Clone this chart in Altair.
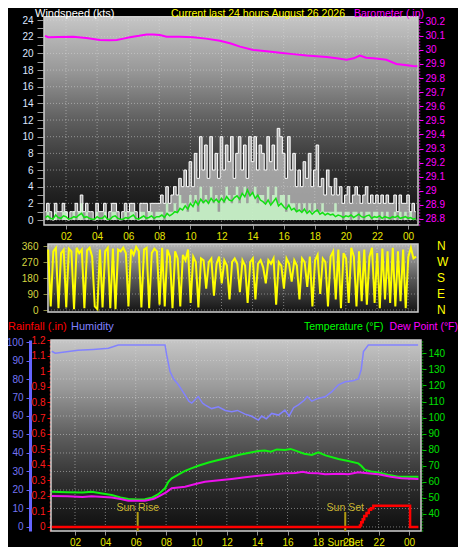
import altair as alt
import pandas as pd

# ---------------- data ----------------
TITLE = "Current last 24 hours August 26 2026"

# wind speed, 10-minute samples starting 00:40 (knots)
WIND_START = 0.667
WIND_STEP = 1 / 6
gust = [1, 2, 1, 0, 2, 1, 1, 2, 1, 0, 1, 1, 2, 1, 3, 1, 2, 1, 1, 0,
        2, 1, 1, 2, 0, 1, 2, 2, 1, 0, 1, 2, 1, 2, 2, 1, 0, 2, 2, 2,
        1, 2, 2, 2,
        2, 3, 2, 4, 2, 3,
        4, 3, 5, 4, 6, 4,
        7, 4, 8, 5, 10, 6,
        9, 5, 10, 6, 8, 5,
        10, 6, 9, 7, 10, 5,
        8, 10, 6, 9, 5, 10,
        7, 10, 6, 9, 8, 6,
        10, 7, 9, 6, 11, 10,
        8, 5, 10, 6, 8, 4,
        6, 4, 7, 5, 8, 4,
        6, 9, 4, 5, 3, 6,
        4, 3, 5, 3, 4, 2,
        3, 4, 2, 3, 4, 3,
        2, 3, 4, 2, 3, 2,
        3, 2, 3, 2, 3, 2,
        2, 3, 1, 3, 2, 2,
        3, 1, 2, 1]
speed = [0, 1, 0, 0, 1, 0, 0, 1, 1, 0, 0, 1, 0, 1, 2, 0, 1, 0, 0, 0,
         1, 0, 0, 1, 0, 0, 1, 1, 0, 0, 0, 1, 0, 1, 1, 0, 0, 1, 1, 0,
         1, 1, 0, 1,
         1, 1, 0, 2, 1, 1,
         2, 1, 3, 2, 2, 1,
         3, 2, 3, 1, 4, 2,
         3, 2, 4, 2, 3, 1,
         3, 2, 4, 3, 2, 3,
         4, 2, 3, 4, 2, 3,
         3, 4, 2, 3, 3, 2,
         4, 2, 3, 4, 2, 3,
         3, 1, 3, 2, 2, 1,
         2, 1, 2, 1, 2, 1,
         2, 1, 1, 2, 1, 1,
         1, 1, 2, 1, 1, 0,
         1, 1, 0, 1, 1, 0,
         1, 0, 1, 1, 0, 1,
         1, 0, 1, 0, 1, 0,
         0, 1, 0, 1, 0, 1,
         0, 1, 0, 0]
avg_speed = [0.3, 0.5, 0.2, 0.1, 0.6, 0.3, 0.2, 0.5, 0.4, 0.1,
             0.2, 0.4, 0.3, 0.6, 0.8, 0.3, 0.4, 0.2, 0.1, 0.1,
             0.4, 0.2, 0.2, 0.5, 0.1, 0.1, 0.4, 0.5, 0.2, 0.1,
             0.1, 0.3, 0.2, 0.4, 0.6, 0.2, 0.1, 0.3, 0.5, 0.2,
             0.3, 0.5, 0.2, 0.4,
             0.4, 0.6, 0.3, 0.8, 0.5, 0.7,
             1.0, 0.9, 1.4, 1.2, 1.7, 1.3,
             2.0, 1.6, 2.3, 1.8, 2.5, 2.1,
             2.4, 2.0, 2.6, 2.2, 2.5, 2.1,
             2.6, 2.2, 2.8, 2.4, 2.3, 2.7,
             2.9, 2.5, 3.2, 2.8, 3.6, 2.9,
             3.3, 2.6, 3.0, 2.4, 2.2, 1.9,
             2.4, 1.8, 2.2, 2.6, 1.7, 2.0,
             1.6, 1.3, 1.8, 1.2, 1.4, 1.0,
             1.2, 0.9, 1.3, 0.8, 1.1, 0.7,
             1.0, 1.2, 0.7, 0.9, 0.6, 0.8,
             0.6, 0.7, 0.4, 0.6, 0.5, 0.3,
             0.5, 0.4, 0.6, 0.3, 0.5, 0.7,
             0.4, 0.3, 0.5, 0.6, 0.2, 0.4,
             0.3, 0.5, 0.2, 0.4, 0.3, 0.2,
             0.4, 0.3, 0.5, 0.2, 0.3, 0.4,
             0.2, 0.3, 0.1, 0.2]

# wind direction, 10-minute samples starting 00:51 (degrees)
DIR_START = 0.85
DIR_STEP = 1 / 6
direction = [340, 20, 330, 350, 10, 320, 340, 15, 345, 330, 5, 350,
             320, 340, 10, 335, 350, 300, 20, 5, 340, 15, 330, 350,
             10, 345, 5, 340, 330, 350, 320, 20, 340, 310, 355, 330,
             15, 340, 350, 10, 320, 345, 330, 30, 350, 20, 340, 300,
             10, 330, 290, 20, 310, 280, 340, 40, 300, 270, 15, 290,
             280, 120, 270, 290, 80, 260, 300, 150, 280, 250, 60, 270,
             290, 260, 100, 280, 250, 40, 270, 290, 60, 260, 280, 240,
             150, 280, 260, 290, 30, 270, 250, 120, 290, 260, 160, 280,
             250, 60, 290, 270, 130, 300, 20, 280, 310, 90, 290, 270,
             20, 300, 330, 60, 340, 10, 320, 290, 40, 350, 300, 20,
             330, 50, 340, 30, 300, 350, 40, 320, 10, 345, 60, 330,
             40, 350, 20, 330, 50, 340, 10, 300, 350, 290, 300]

baro_hours = [0.65, 0.85, 1.5, 2.47, 3.3, 4.19, 4.8, 5.26, 5.7, 6.11, 6.7, 7.19, 7.6,
              8.04, 8.47, 9.3, 10.18, 11.0, 11.9, 12.6, 13.19, 14.04, 14.9, 15.76,
              16.6, 17.48, 18.76, 19.4, 20.05, 20.5, 20.9, 21.3, 21.76, 22.2, 22.6,
              23.25, 23.8, 24.3, 24.6]
baro_vals = [30.10, 30.09, 30.092, 30.094, 30.085, 30.07, 30.068, 30.07, 30.08, 30.09,
             30.10, 30.11, 30.11, 30.106, 30.094, 30.094, 30.09, 30.08, 30.065, 30.045,
             30.023, 30.0, 29.99, 29.98, 29.97, 29.96, 29.95, 29.94, 29.93, 29.94,
             29.96, 29.945, 29.94, 29.935, 29.93, 29.90, 29.893, 29.886, 29.884]

hum_hours = [0.47, 0.7, 1.2, 2.2, 3.2, 4.2, 4.85, 7.93, 8.04, 8.26, 8.5, 8.8, 9.2, 9.5,
             9.69, 10.12, 10.4, 10.56, 11.0, 11.44, 11.9, 12.32, 12.7, 13.2, 13.6, 14.08,
             14.3, 14.6, 14.96, 15.4, 15.83, 16.1, 16.4, 16.71, 17.1, 17.3, 17.6, 18.0,
             18.47, 18.9, 19.35, 19.8, 20.3, 20.66, 20.85, 21.0, 21.32, 24.6]
hum_vals = [95, 94, 94.5, 95.5, 96, 96.6, 98.4, 98.4, 93, 84, 80, 77, 72, 68,
            67, 70.5, 67, 66, 64, 65, 63, 62.3, 63, 61, 60, 57.8,
            60, 58.5, 61.4, 60.5, 63.2, 60, 64.5, 66, 68.5, 70.5, 68, 69.5,
            70.4, 73, 76.8, 78.5, 79, 80, 85, 94.8, 98.4, 98.4]

temp_hours = [0.47, 1.5, 2.5, 3.1, 3.8, 4.42, 5.0, 5.51, 6.1, 6.61, 7.1, 7.49, 7.93, 8.15,
              8.37, 8.8, 9.25, 9.7, 10.12, 10.8, 11.44, 12.1, 12.76, 13.4, 14.08, 14.5,
              14.9, 15.3, 15.83, 16.2, 16.71, 17.1, 17.6, 18.03, 18.5, 19.35, 20.0, 20.66,
              20.85, 21.1, 21.5, 21.98, 22.6, 23.3, 24.62]
temp_vals = [53.9, 53.6, 53.4, 53.9, 52.8, 51.8, 50.3, 49.3, 49.0, 49.2, 50.3, 52.3, 56, 60,
             62.2, 64.5, 66.8, 68.5, 70, 72, 73.6, 75, 76.7, 78, 79.2, 79.5,
             78.8, 80.2, 79.8, 80.5, 78.8, 77.5, 76.7, 78.4, 76.5, 74.2, 73, 71.5,
             70, 67.4, 66.5, 65.9, 64.5, 63.2, 63.2]

dew_hours = [0.47, 1.5, 2.5, 3.1, 4.42, 5.0, 5.51, 6.61, 7.2, 7.49, 8.0, 8.37, 9.25, 10.0,
             10.56, 11.5, 12.32, 13.2, 14.08, 15.0, 15.83, 16.5, 17.0, 17.4, 18.0, 18.47,
             19.5, 20.0, 20.66, 21.1, 21.98, 22.8, 23.5, 24.62]
dew_vals = [51.2, 51.0, 50.6, 51.0, 50.2, 49.3, 48.3, 48.3, 49.5, 50.8, 53.5, 56, 57, 58.8,
            60.1, 61, 61.8, 62.8, 63.8, 64.6, 65.3, 65.5, 66.3, 65.5, 65.3, 64.7,
            65, 64.8, 65.9, 65.5, 64.7, 63.2, 62.2, 61.8]

rain_hours = [0.47, 20.77, 20.85, 20.95, 21.05, 21.2, 21.35, 21.5, 21.65, 24.07, 24.62]
rain_vals = [0, 0.01, 0.03, 0.05, 0.07, 0.09, 0.11, 0.12, 0.137, 0, 0]

SUN_RISE = 6.13
SUN_SET = 19.8

hour_ticks = [2, 4, 6, 8, 10, 12, 14, 16, 18, 20, 22, 24]
wind_ticks = list(range(0, 25))
wind_grid = [0, 2, 4, 6, 8, 10, 12, 14, 16, 18, 20, 22, 24]
baro_ticks = [28.8, 28.9, 29.0, 29.1, 29.2, 29.3, 29.4, 29.5, 29.6, 29.7,
              29.8, 29.9, 30.0, 30.1, 30.2]
dir_ticks = [0, 90, 180, 270, 360]
dir_names = ["N", "E", "S", "W", "N"]
hum_ticks = [0, 10, 20, 30, 40, 50, 60, 70, 80, 90, 100]
rain_ticks = [0, 0.1, 0.2, 0.3, 0.4, 0.5, 0.6, 0.7, 0.8, 0.9, 1.0, 1.1, 1.2]
temp_ticks = [40, 50, 60, 70, 80, 90, 100, 110, 120, 130, 140]

# ---------------- layout ----------------
W, H = 450, 539
FONT = "Liberation Sans"
XLBL = "datum.value == 24 ? '00' : (datum.value < 10 ? '0' + datum.value : '' + datum.value)"


def sc(domain, rng):
    return alt.Scale(domain=domain, range=rng, nice=False, zero=False)


TOPX = ([0.585, 24.64], [36, 410])
WIND = ([-0.6, 24.97], [217, 4])
BARO = ([28.757, 30.269], [217, 4])
DIRY = ([-11.25, 371.25], [304, 236])
BOTX = ([0.42, 24.79], [43, 413])
HUM = ([-2.2, 101.1], [523, 332])
RAIN = ([-0.0257, 1.201], [523, 332])
TEMP = ([29.42, 148.27], [523, 332])


def grad(stops):
    return {"gradient": "linear", "x1": 0, "y1": 0, "x2": 0, "y2": 1,
            "stops": [{"offset": o, "color": c} for o, c in stops]}


BG_STOPS = [(0, "#c6c6c6"), (0.25, "#9a9a9a"), (0.5, "#5e5e5e"), (0.75, "#2e2e2e"), (1, "#0e0e0e")]
DIR_STOPS = [(0, "#b4b4b4"), (0.5, "#5a5a5a"), (1, "#141414")]
GRID = dict(color="#dcdcdc", strokeDash=[1, 2], opacity=0.5, strokeWidth=1)


def xq(field, s, axis=None):
    return alt.X(f"{field}:Q", scale=sc(*s), axis=axis, title=None)


def yq(field, s, axis=None):
    return alt.Y(f"{field}:Q", scale=sc(*s), axis=axis, title=None)


def panel(xs, ys, x0, x1, y0, y1, stops, xaxis, yaxis, vgrid, hgrid):
    df = pd.DataFrame({"x0": [x0], "x1": [x1], "y0": [y0], "y1": [y1]})
    bg = alt.Chart(df).mark_rect(fill=grad(stops)).encode(
        x=xq("x0", xs, xaxis), x2="x1", y=yq("y0", ys, yaxis), y2="y1")
    vdf = pd.DataFrame({"v": vgrid, "lo": [y0] * len(vgrid), "hi": [y1] * len(vgrid)})
    vg = alt.Chart(vdf).mark_rule(**GRID).encode(
        x=xq("v", xs), y=yq("lo", ys), y2="hi")
    hdf = pd.DataFrame({"v": hgrid, "lo": [x0] * len(hgrid), "hi": [x1] * len(hgrid)})
    hg = alt.Chart(hdf).mark_rule(**GRID).encode(
        y=yq("v", ys), x=xq("lo", xs), x2="hi")
    frame = alt.Chart(df).mark_rect(fillOpacity=0, stroke="#cfcfcf", strokeWidth=1.5).encode(
        x=xq("x0", xs), x2="x1", y=yq("y0", ys), y2="y1")
    return [bg, vg, hg, frame]


def xaxis_style(offset):
    return alt.Axis(orient="bottom", offset=offset, values=hour_ticks, labelExpr=XLBL,
                    labelColor="#e6e600", labelFontSize=10, labelFont=FONT, tickColor="#909090",
                    tickSize=4, labelPadding=2, domain=False, grid=False, labelFlush=False,
                    labelOverlap=False)


# ---------------- top panel: wind speed + barometer ----------------
wind_df = pd.DataFrame({
    "h": [WIND_START + i * WIND_STEP for i in range(len(gust))],
    "gust": gust, "speed": speed, "avg": avg_speed})

wind_yaxis = alt.Axis(orient="left", offset=-35, values=wind_ticks,
                      labelExpr="datum.value % 2 == 0 ? datum.label : ''",
                      labelColor="#dde6ff", labelFontSize=10, labelFont=FONT, tickColor="#9a9a9a",
                      tickSize=6, labelPadding=4, domain=False, grid=False, labelOverlap=False,
                      labelFlush=False)

top_parts = panel(TOPX, WIND, 0.585, 24.64, -0.6, 24.4, BG_STOPS,
                  xaxis_style(217 - H), wind_yaxis, hour_ticks, wind_grid)

wbase = alt.Chart(wind_df)
gust_area = wbase.mark_area(interpolate="step", color="#d4d4d4", opacity=0.7).encode(
    x=xq("h", TOPX), y=yq("gust", WIND))
speed_area = wbase.mark_area(interpolate="step", color="#c6f2c6", opacity=0.9).encode(
    x=xq("h", TOPX), y=yq("speed", WIND))
gust_line = wbase.mark_line(interpolate="step", color="#ffffff", strokeWidth=1).encode(
    x=xq("h", TOPX), y=yq("gust", WIND))
avg_line = wbase.mark_line(color="#12e012", strokeWidth=1.5).encode(
    x=xq("h", TOPX), y=yq("avg", WIND))

baro_axis = alt.Axis(orient="right", offset=-39, values=baro_ticks, format="~g",
                     labelColor="#ff00ff", labelFontSize=10, labelFont=FONT, tickColor="#ff00ff",
                     tickSize=4, labelPadding=2, domainColor="#ff00ff", domainDash=[1, 2],
                     domainWidth=1.5, grid=False, labelOverlap=False, labelFlush=False)
top_baro = alt.Chart(pd.DataFrame({"h": baro_hours, "p": baro_vals})).mark_line(
    color="#ff00ff", strokeWidth=2).encode(x=xq("h", TOPX), y=yq("p", BARO, baro_axis))

# ---------------- direction panel ----------------
dir_df = pd.DataFrame({"h": [DIR_START + i * DIR_STEP for i in range(len(direction))],
                       "d": direction})
dir_axis = alt.Axis(orient="left", offset=-39, values=dir_ticks, labelColor="#d6d640",
                    labelFontSize=10, labelFont=FONT, tickColor="#8a8a40", tickSize=4,
                    labelPadding=5, domain=False, grid=False, labelOverlap=False, labelFlush=False)
dir_parts = panel(TOPX, DIRY, 0.84, 24.64, -11.25, 371.25, DIR_STOPS,
                  None, dir_axis, hour_ticks, dir_ticks)
dir_line = alt.Chart(dir_df).mark_line(color="#ffff00", strokeWidth=2).encode(
    x=xq("h", TOPX), y=yq("d", DIRY))
compass = alt.Chart(pd.DataFrame({"d": dir_ticks, "n": dir_names})).mark_text(
    color="#ffff00", fontSize=12, font=FONT, align="left", baseline="middle").encode(
    x=alt.value(429), y=yq("d", DIRY), text="n:N")

# ---------------- bottom panel ----------------
hum_axis = alt.Axis(orient="left", offset=-22, values=hum_ticks, labelColor="#7474f4",
                    labelFontSize=10, labelFont=FONT, tickColor="#6464ff", tickSize=4,
                    labelPadding=3, domainColor="#6464ff", domainWidth=3, grid=False,
                    labelOverlap=False, labelFlush=False)
bot_parts = panel(BOTX, HUM, 0.42, 24.79, -2.2, 101.1, BG_STOPS,
                  xaxis_style(523 - H), hum_axis, hour_ticks, hum_ticks)
hum_line = alt.Chart(pd.DataFrame({"h": hum_hours, "v": hum_vals})).mark_line(
    color="#8282ff", strokeWidth=1.5).encode(x=xq("h", BOTX), y=yq("v", HUM))

# sun markers: line from the panel floor to just under the label
sun_df = pd.DataFrame({"h": [SUN_RISE, SUN_SET], "lbl": ["Sun Rise", "Sun Set"],
                       "lo": [-2.2, -2.2], "hi": [8.1, 8.1], "ly": [10.3, 10.3]})
sun_rules = alt.Chart(sun_df).mark_rule(color="#b09a10", strokeWidth=2).encode(
    x=xq("h", BOTX), y=yq("lo", HUM), y2="hi")
sun_text = alt.Chart(sun_df).mark_text(color="#c8b430", fontSize=10.5, font=FONT,
                                       baseline="middle").encode(
    x=xq("h", BOTX), y=yq("ly", HUM), text="lbl:N")
sunset_axis = alt.Chart(pd.DataFrame({"h": [SUN_SET], "lbl": ["Sun Set"], "ly": [-8.65]})).mark_text(
    color="#e6e600", fontSize=10, font=FONT, baseline="middle").encode(
    x=xq("h", BOTX), y=yq("ly", HUM), text="lbl:N")

temp_axis = alt.Axis(orient="right", offset=-36, values=temp_ticks, labelColor="#00e000",
                     labelFontSize=10, labelFont=FONT, tickColor="#00c000", tickSize=4,
                     labelPadding=2, domainColor="#00c000", domainDash=[1, 2], domainWidth=1.5,
                     grid=False, labelOverlap=False, labelFlush=False)
temp_line = alt.Chart(pd.DataFrame({"h": temp_hours, "v": temp_vals})).mark_line(
    color="#10f010", strokeWidth=2).encode(x=xq("h", BOTX), y=yq("v", TEMP, temp_axis))
dew_line = alt.Chart(pd.DataFrame({"h": dew_hours, "v": dew_vals})).mark_line(
    color="#ee10ee", strokeWidth=2).encode(x=xq("h", BOTX), y=yq("v", TEMP))

rain_axis = alt.Axis(orient="left", offset=-42, values=rain_ticks, format="~g",
                     labelColor="#ff1a1a", labelFontSize=10, labelFont=FONT, tickColor="#ff0000",
                     tickSize=3, labelPadding=2, domainColor="#ff2020", domainDash=[2, 2],
                     domainWidth=1.5, grid=False, labelOverlap=False, labelFlush=False)
bot_rain = alt.Chart(pd.DataFrame({"h": rain_hours, "v": rain_vals})).mark_line(
    color="#ff0000", strokeWidth=2.5, interpolate="step-after").encode(
    x=xq("h", BOTX), y=yq("v", RAIN, rain_axis))


# ---------------- titles ----------------
def label(txt, x, y, color, size=11, align="left"):
    return alt.Chart(pd.DataFrame({"t": [txt]})).mark_text(
        align=align, baseline="middle", color=color, fontSize=size, font=FONT).encode(
        text="t:N", x=alt.value(x), y=alt.value(y))


titles = [
    label("Windspeed (kts)", 27, 6, "#ffffff"),
    label(TITLE, 250, 6, "#ffff00", size=10.5, align="center"),
    label("Barometer (.in)", 416, 5.5, "#ff00ff", size=10.5, align="right"),
    label("Rainfall (.in)", 0, 319, "#ff0000"),
    label("Humidity", 63, 319, "#8080ff"),
    label("Temperature (°F)", 296, 319, "#00ff00", size=10.5),
    label("Dew Point (°F)", 450, 319, "#ff00ff", size=10.5, align="right"),
]

layers = (top_parts + [gust_area, speed_area, gust_line, avg_line, top_baro]
          + dir_parts + [dir_line, compass]
          + bot_parts + [hum_line, sun_rules, sun_text, sunset_axis, temp_line, dew_line, bot_rain]
          + titles)

chart = alt.layer(*layers).resolve_scale(
    x="independent", y="independent"
).resolve_axis(
    x="independent", y="independent"
).properties(
    width=W, height=H, padding=0, background="#000000",
    autosize=alt.AutoSizeParams(type="none")
).configure_view(strokeWidth=0)

chart.save("out.html", embed_options={"renderer": "svg", "actions": False})
